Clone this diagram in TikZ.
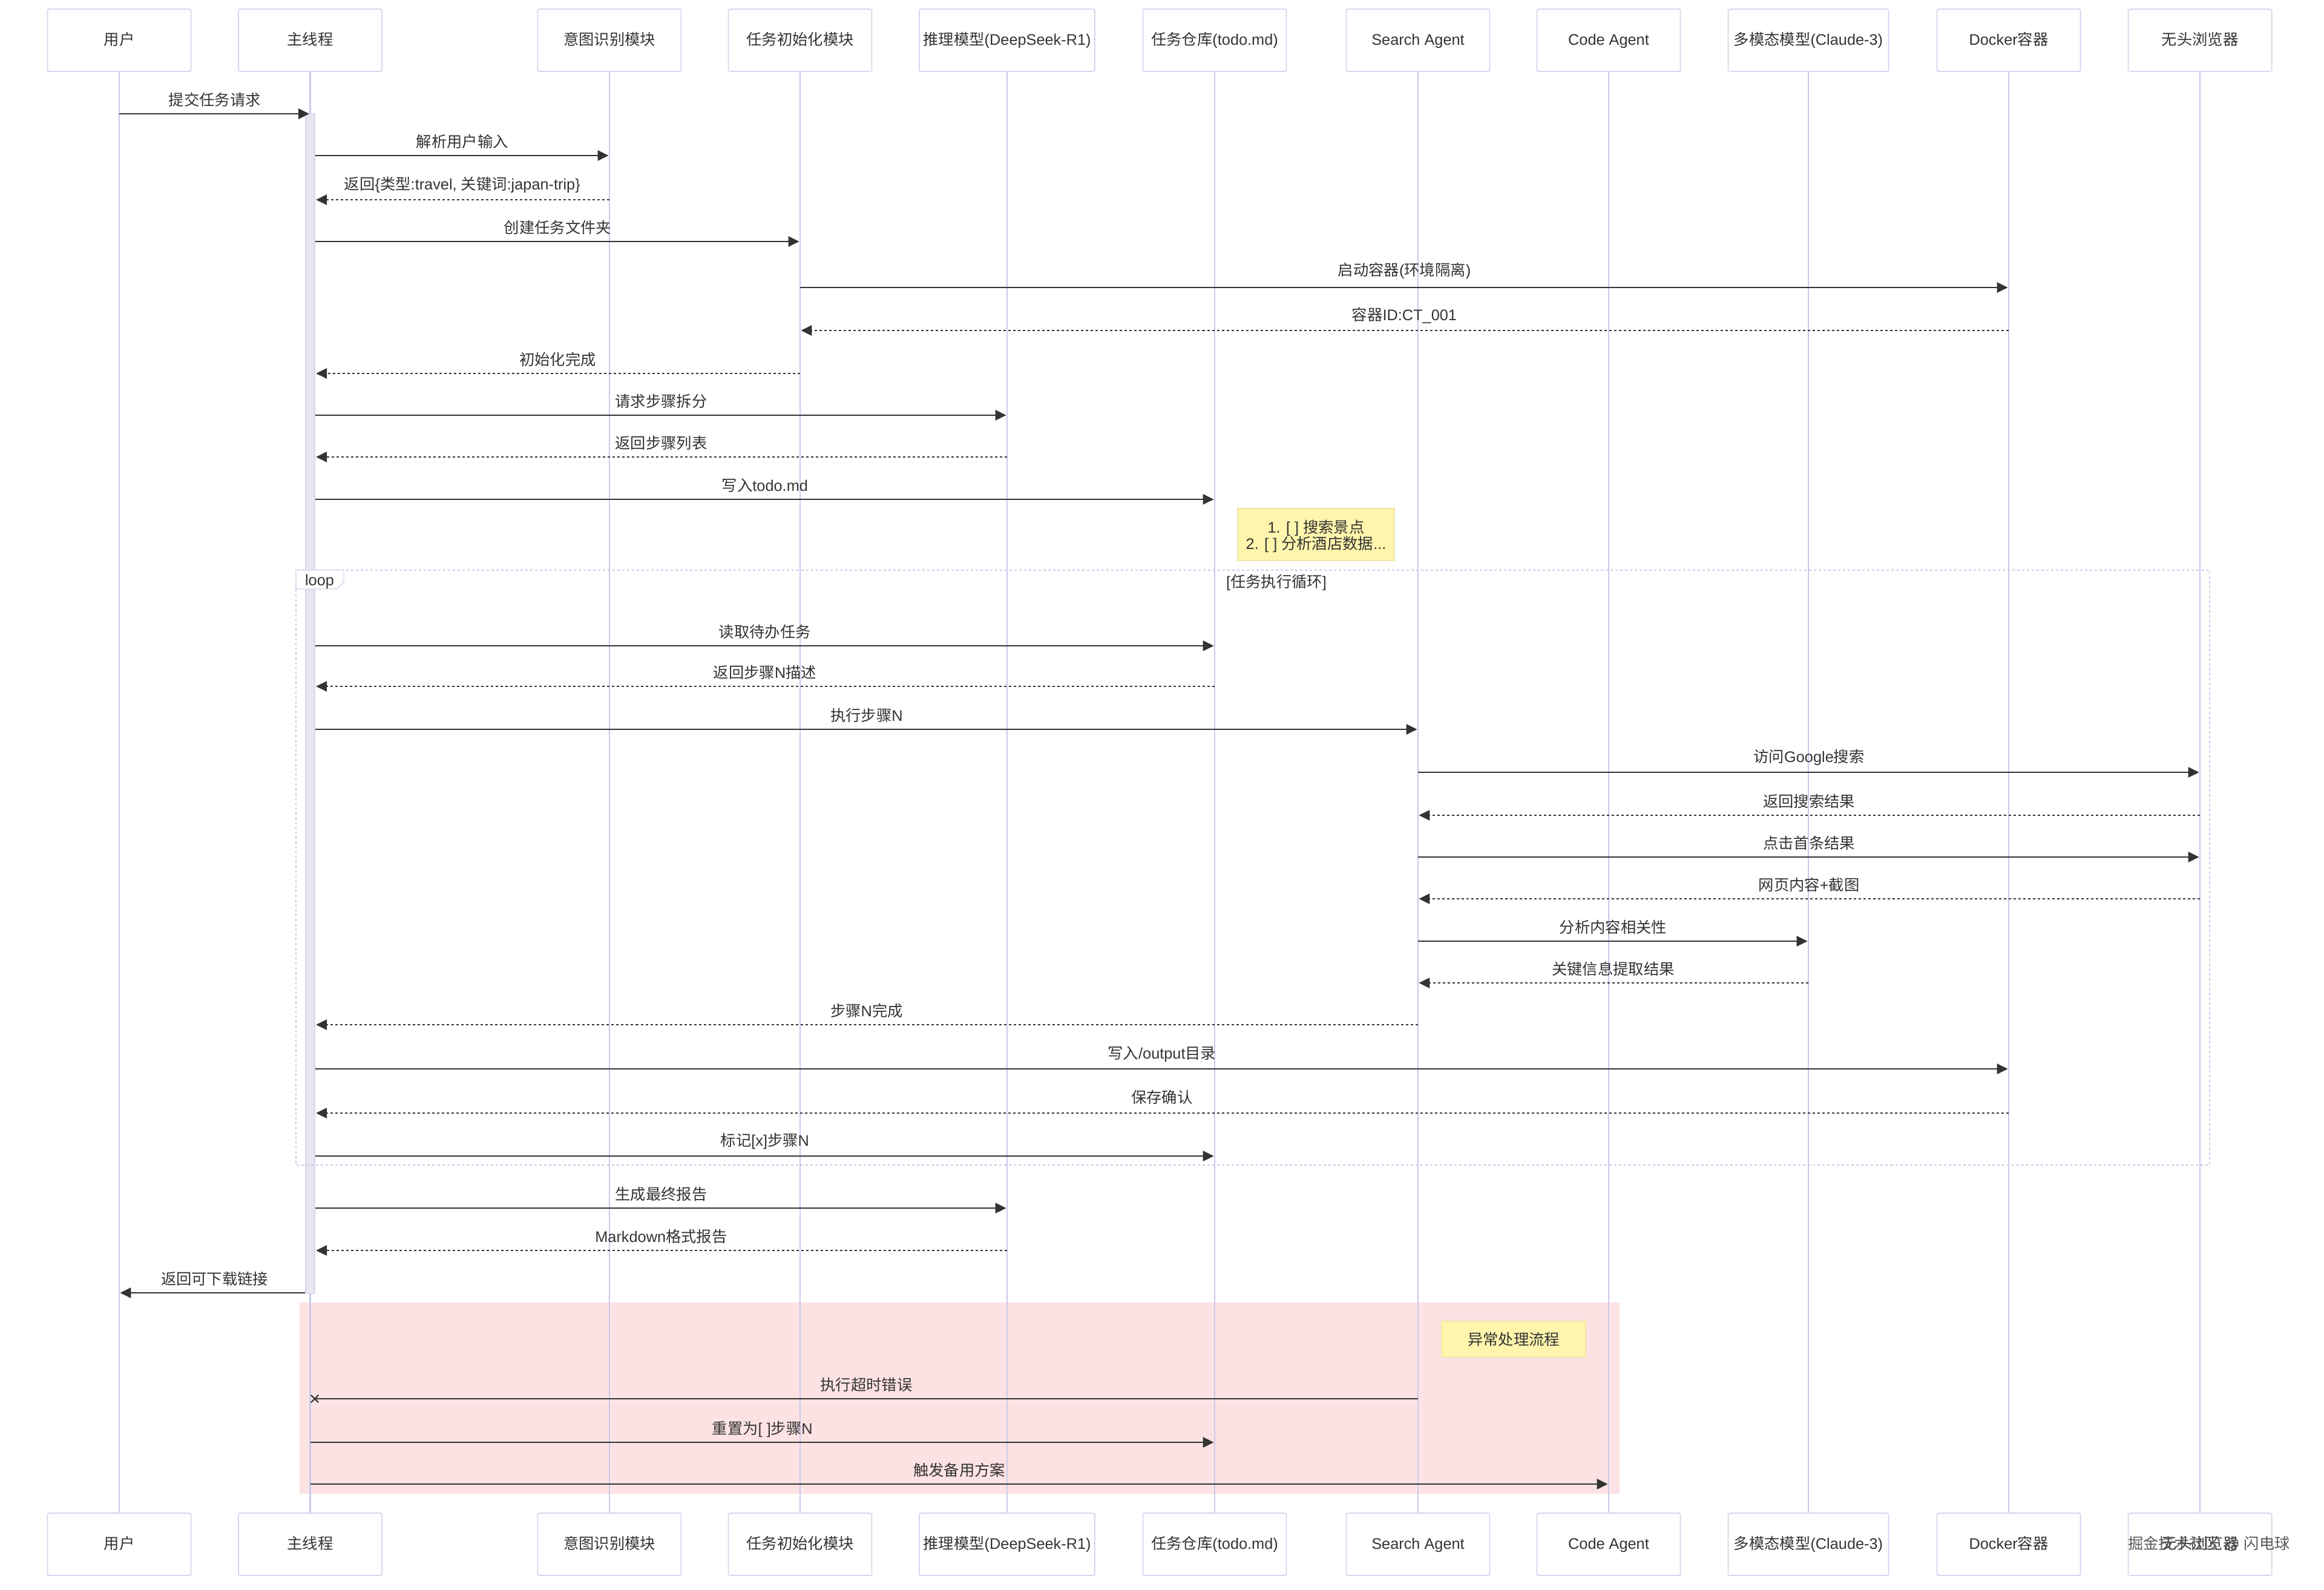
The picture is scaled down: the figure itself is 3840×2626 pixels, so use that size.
\documentclass[tikz,border=0pt]{standalone}
\usepackage{fontspec}
\setmainfont{Liberation Sans}
\newfontfamily\cjk{Noto Sans CJK SC}
\usetikzlibrary{arrows.meta,shapes.misc}
\definecolor{lifecolor}{HTML}{C8CAEC}
\definecolor{boxcolor}{HTML}{D6D6EF}
\definecolor{inkcolor}{HTML}{333333}
\definecolor{barcolor}{HTML}{E6E6EE}
\definecolor{pinkcolor}{HTML}{FDE2E3}
\definecolor{notecolor}{HTML}{FFF5AD}
\definecolor{noteedge}{HTML}{EFE6A6}
\tikzset{
  actorbox/.style={draw=boxcolor, line width=0.5pt, fill=white, rounded corners=0.8pt, minimum width=2.37cm, minimum height=1.03cm, inner sep=0pt, text height=0.2cm, text depth=0.05cm, text=inkcolor, font=\fontsize{7.2}{8}\selectfont},
  lifeline/.style={draw=lifecolor, line width=0.8pt},
  msgline/.style={draw=inkcolor, line width=0.75pt},
  msgarrow/.style={msgline, -{Triangle[length=0.18cm, width=0.17cm]}, shorten >=0.4pt},
  msgdash/.style={msgarrow, dash pattern=on 0.04cm off 0.04cm},
  msglabel/.style={above=0.075cm, inner sep=0pt, text height=0.2cm, text depth=0.05cm, text=inkcolor, font=\fontsize{7.2}{8}\selectfont},
  msglabelhigh/.style={msglabel, yshift=0.025cm},
  notebox/.style={draw=noteedge, line width=0.4pt, fill=notecolor, inner sep=0pt, align=center, text=inkcolor, font=\fontsize{7.2}{7.7}\selectfont}
}
\begin{document}
\begin{tikzpicture}[x=0.01cm, y=-0.01cm]
  \useasboundingbox (0,0) rectangle (3840,2626);
  \fill[pinkcolor] (495,2152) rectangle (2676,2468);
  % top row
  \node[actorbox] (user) at (197,66.5) {{\cjk 用户}};
  \node[actorbox] (main) at (512.5,66.5) {{\cjk 主线程}};
  \node[actorbox] (intent) at (1007,66.5) {{\cjk 意图识别模块}};
  \node[actorbox] (init) at (1322,66.5) {{\cjk 任务初始化模块}};
  \node[actorbox, minimum width=2.9cm] (model) at (1664,66.5) {{\cjk 推理模型}(DeepSeek-R1)};
  \node[actorbox] (todo) at (2007,66.5) {{\cjk 任务仓库}(todo.md)};
  \node[actorbox] (search) at (2343,66.5) {Search Agent};
  \node[actorbox] (code) at (2658,66.5) {Code Agent};
  \node[actorbox, minimum width=2.65cm] (multi) at (2988,66.5) {{\cjk 多模态模型}(Claude-3)};
  \node[actorbox] (docker) at (3319,66.5) {Docker{\cjk 容器}};
  \node[actorbox] (browser) at (3635,66.5) {{\cjk 无头浏览器}};
  % bottom row
  \node[actorbox] (userb) at (197,2551.5) {{\cjk 用户}};
  \node[actorbox] (mainb) at (512.5,2551.5) {{\cjk 主线程}};
  \node[actorbox] (intentb) at (1007,2551.5) {{\cjk 意图识别模块}};
  \node[actorbox] (initb) at (1322,2551.5) {{\cjk 任务初始化模块}};
  \node[actorbox, minimum width=2.9cm] (modelb) at (1664,2551.5) {{\cjk 推理模型}(DeepSeek-R1)};
  \node[actorbox] (todob) at (2007,2551.5) {{\cjk 任务仓库}(todo.md)};
  \node[actorbox] (searchb) at (2343,2551.5) {Search Agent};
  \node[actorbox] (codeb) at (2658,2551.5) {Code Agent};
  \node[actorbox, minimum width=2.65cm] (multib) at (2988,2551.5) {{\cjk 多模态模型}(Claude-3)};
  \node[actorbox] (dockerb) at (3319,2551.5) {Docker{\cjk 容器}};
  \node[actorbox] (browserb) at (3635,2551.5) {{\cjk 无头浏览器}};
  % lifelines
  \draw[lifeline] (user) -- (userb);
  \draw[lifeline] (main) -- (mainb);
  \draw[lifeline] (intent) -- (intentb);
  \draw[lifeline] (init) -- (initb);
  \draw[lifeline] (model) -- (modelb);
  \draw[lifeline] (todo) -- (todob);
  \draw[lifeline] (search) -- (searchb);
  \draw[lifeline] (code) -- (codeb);
  \draw[lifeline] (multi) -- (multib);
  \draw[lifeline] (docker) -- (dockerb);
  \draw[lifeline] (browser) -- (browserb);
  \node[actorbox, draw=none, fill=none, text=gray!70!black, minimum width=2.6cm] (mark) at (3650,2552) {{\cjk 掘金技术社区} @ {\cjk 闪电球}};
  % activation bar and loop frame
  \node[draw=boxcolor, line width=0.4pt, fill=barcolor, minimum width=0.15cm, minimum height=19.49cm, inner sep=0pt] (bar) at (512.5,1162.5) {};
  \draw[draw=lifecolor, line width=0.7pt, dash pattern=on 0.04cm off 0.04cm] (489,942) rectangle (3651,1925);
  \filldraw[draw=boxcolor, line width=0.4pt, fill=white] (489,942) -- (568,942) -- (568,962) -- (556,973) -- (489,973) -- cycle;
  \node[inner sep=0pt, text=inkcolor, font=\fontsize{7.2}{8}\selectfont] (looptag) at (528,961) {loop};
  \node[inner sep=0pt, text=inkcolor, font=\fontsize{7.2}{8}\selectfont] (looptitle) at (2109,962) {[{\cjk 任务执行循环}]};
  % notes
  \node[notebox, minimum width=2.59cm, minimum height=0.86cm] (todonote) at (2174.5,883) {\rule{0pt}{0.28cm}1. [ ] {\cjk 搜索景点}\\2. [ ] {\cjk 分析酒店数据}...};
  \node[notebox, minimum width=2.38cm, minimum height=0.59cm] (errnote) at (2501,2212.5) {{\cjk 异常处理流程}};
  % messages
  \draw[msgarrow] (user.south |- 0,188) -- node[msglabel] {{\cjk 提交任务请求}} (main.south |- 0,188);
  \draw[msgarrow] (bar.east |- 0,257) -- node[msglabel] {{\cjk 解析用户输入}} (intent.south |- 0,257);
  \draw[msgdash] (intent.south |- 0,330) -- node[msglabelhigh] {{\cjk 返回}\{{\cjk 类型}:travel, {\cjk 关键词}:japan-trip\}} (bar.east |- 0,330);
  \draw[msgarrow] (bar.east |- 0,399) -- node[msglabel] {{\cjk 创建任务文件夹}} (init.south |- 0,399);
  \draw[msgarrow] (init.south |- 0,475) -- node[msglabel, yshift=0.055cm] {{\cjk 启动容器}({\cjk 环境隔离})} (docker.south |- 0,475);
  \draw[msgdash] (docker.south |- 0,546) -- node[msglabelhigh] {{\cjk 容器}ID:CT\_001} (init.south |- 0,546);
  \draw[msgdash] (init.south |- 0,617) -- node[msglabel] {{\cjk 初始化完成}} (bar.east |- 0,617);
  \draw[msgarrow] (bar.east |- 0,686) -- node[msglabel] {{\cjk 请求步骤拆分}} (model.south |- 0,686);
  \draw[msgdash] (model.south |- 0,755) -- node[msglabel] {{\cjk 返回步骤列表}} (bar.east |- 0,755);
  \draw[msgarrow] (bar.east |- 0,825) -- node[msglabel] {{\cjk 写入}todo.md} (todo.south |- 0,825);
  \draw[msgarrow] (bar.east |- 0,1067) -- node[msglabel] {{\cjk 读取待办任务}} (todo.south |- 0,1067);
  \draw[msgdash] (todo.south |- 0,1134) -- node[msglabel] {{\cjk 返回步骤}N{\cjk 描述}} (bar.east |- 0,1134);
  \draw[msgarrow] (bar.east |- 0,1205) -- node[msglabel] {{\cjk 执行步骤}N} (search.south |- 0,1205);
  \draw[msgarrow] (search.south |- 0,1276) -- node[msglabelhigh] {{\cjk 访问}Google{\cjk 搜索}} (browser.south |- 0,1276);
  \draw[msgdash] (browser.south |- 0,1347) -- node[msglabel] {{\cjk 返回搜索结果}} (search.south |- 0,1347);
  \draw[msgarrow] (search.south |- 0,1416) -- node[msglabel] {{\cjk 点击首条结果}} (browser.south |- 0,1416);
  \draw[msgdash] (browser.south |- 0,1485) -- node[msglabel] {{\cjk 网页内容}+{\cjk 截图}} (search.south |- 0,1485);
  \draw[msgarrow] (search.south |- 0,1555) -- node[msglabel] {{\cjk 分析内容相关性}} (multi.south |- 0,1555);
  \draw[msgdash] (multi.south |- 0,1624) -- node[msglabel] {{\cjk 关键信息提取结果}} (search.south |- 0,1624);
  \draw[msgdash] (search.south |- 0,1693) -- node[msglabel] {{\cjk 步骤}N{\cjk 完成}} (bar.east |- 0,1693);
  \draw[msgarrow] (bar.east |- 0,1766) -- node[msglabelhigh] {{\cjk 写入}/output{\cjk 目录}} (docker.south |- 0,1766);
  \draw[msgdash] (docker.south |- 0,1839) -- node[msglabelhigh] {{\cjk 保存确认}} (bar.east |- 0,1839);
  \draw[msgarrow] (bar.east |- 0,1910) -- node[msglabelhigh] {{\cjk 标记}[x]{\cjk 步骤}N} (todo.south |- 0,1910);
  \draw[msgarrow] (bar.east |- 0,1996) -- node[msglabel] {{\cjk 生成最终报告}} (model.south |- 0,1996);
  \draw[msgdash] (model.south |- 0,2066) -- node[msglabel] {Markdown{\cjk 格式报告}} (bar.east |- 0,2066);
  \draw[msgarrow] (bar.west |- 0,2136) -- node[msglabel, xshift=0.04cm] {{\cjk 返回可下载链接}} (user.south |- 0,2136);
  % error branch
  \node[cross out, draw=inkcolor, line width=0.6pt, minimum size=0.1cm, inner sep=0pt] (timeoutx) at (520,2311) {};
  \draw[msgline] (search.south |- timeoutx) -- node[msglabel] {{\cjk 执行超时错误}} (timeoutx.center);
  \draw[msgarrow] (main.south |- 0,2383) -- node[msglabel] {{\cjk 重置为}[ ]{\cjk 步骤}N} (todo.south |- 0,2383);
  \draw[msgarrow] (main.south |- 0,2452) -- node[msglabel] {{\cjk 触发备用方案}} (code.south |- 0,2452);
\end{tikzpicture}
\end{document}
